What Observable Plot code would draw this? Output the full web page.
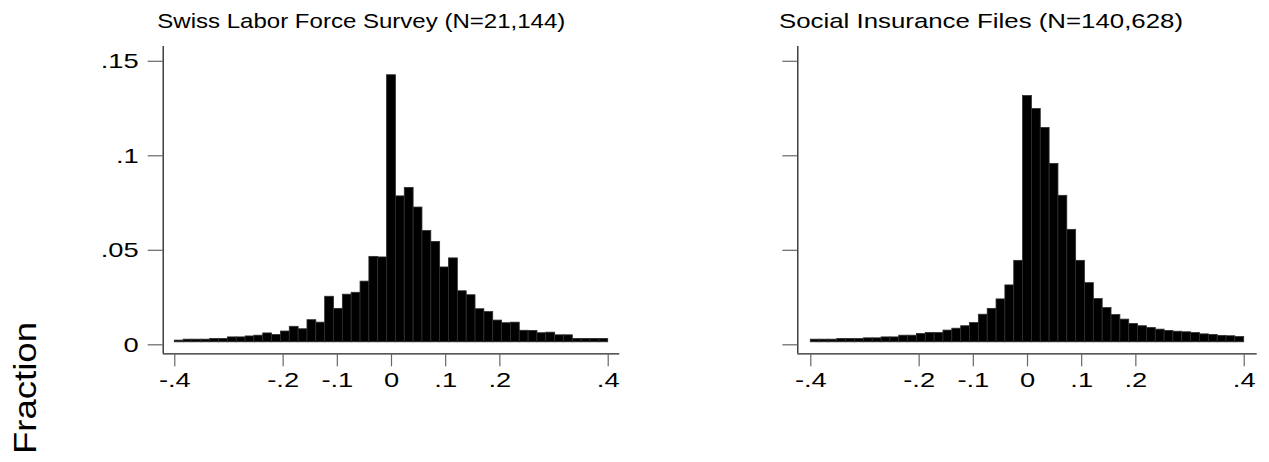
<!DOCTYPE html>
<html><head><meta charset="utf-8">
<script src="https://cdn.jsdelivr.net/npm/d3@7"></script>
<script src="https://cdn.jsdelivr.net/npm/@observablehq/plot@0.6"></script>
<style>
body{margin:0;background:#fff;}
#wrap{position:relative;width:1269px;height:462px;overflow:hidden;font-family:"Liberation Sans",Arial,sans-serif;background:#fff;}
#wrap svg{position:absolute;top:0;}
</style></head><body><div id="wrap"></div>
<script>
// ---- data ----
const binCount = 49;
const binRange = [-0.4, 0.4];
const lfsFractions = [0.0009,0.0014,0.0014,0.0014,0.0018,0.0018,0.0026,0.0026,0.0031,0.0035,0.0047,0.0039,0.0057,0.0082,0.0069,0.0117,0.0104,0.0241,0.0177,0.0252,0.0262,0.0321,0.0452,0.0449,0.1413,0.0772,0.0817,0.0713,0.0589,0.0531,0.0396,0.0444,0.0270,0.0249,0.0175,0.0160,0.0115,0.0101,0.0104,0.0061,0.0060,0.0048,0.0051,0.0037,0.0037,0.0018,0.0018,0.0018,0.0018];
const sifFractions = [0.0014,0.0014,0.0014,0.0018,0.0018,0.0018,0.0021,0.0021,0.0026,0.0026,0.0035,0.0035,0.0044,0.0049,0.0049,0.0062,0.0072,0.0085,0.0102,0.0146,0.0177,0.0227,0.0301,0.0431,0.1303,0.1234,0.1134,0.0944,0.0775,0.0595,0.0431,0.0313,0.0229,0.0181,0.0144,0.0120,0.0097,0.0085,0.0076,0.0067,0.0060,0.0056,0.0053,0.0049,0.0042,0.0039,0.0034,0.0032,0.0028];
const panelTitles = ["Swiss Labor Force Survey (N=21,144)", "Social Insurance Files (N=140,628)"];
const yTickValues = [0, 0.05, 0.1, 0.15];
const yTickLabels = ["0", ".05", ".1", ".15"];
const xTickValues = [-0.4, -0.2, -0.1, 0, 0.1, 0.2, 0.4];
const xTickLabels = ["-.4", "-.2", "-.1", "0", ".1", ".2", ".4"];
const yAxisTitle = "Fraction";

const FONT = '"Liberation Sans", Arial, sans-serif';
const yDomain = [-0.00608, 0.1565];

function toBins(values) {
  const w = (binRange[1] - binRange[0]) / binCount;
  return values.map((v, i) => ({x1: binRange[0] + i * w, x2: binRange[0] + (i + 1) * w, frac: v}));
}

function stretch(svg, factor) {
  svg.querySelectorAll("text").forEach(t => {
    const len = t.getComputedTextLength();
    if (len > 0) {
      t.setAttribute("textLength", len * factor);
      t.setAttribute("lengthAdjust", "spacingAndGlyphs");
    }
  });
}

function panel(values, o) {
  const xDomain = o.xDomain;
  return Plot.plot({
    width: o.width, height: 462,
    marginLeft: o.marginLeft, marginRight: o.marginRight, marginTop: 46, marginBottom: 108.7,
    style: {fontFamily: FONT, background: "transparent", overflow: "visible"},
    x: {domain: xDomain},
    y: {domain: yDomain},
    marks: [
      Plot.rectY(toBins(values), {x1: "x1", x2: "x2", y: "frac", fill: "black", stroke: "#2e2e2e", strokeWidth: 0.8}),
      Plot.ruleX([xDomain[0]], {stroke: "#222", strokeWidth: 1.3}),
      Plot.ruleY([yDomain[0]], {stroke: "#222", strokeWidth: 1.3}),
      Plot.axisY({
        ticks: yTickValues,
        tickFormat: d => o.yLabels ? yTickLabels[yTickValues.indexOf(d)] : "",
        tickSize: 15, tickPadding: 9.5, fontSize: 21, stroke: "#666", strokeWidth: 1.2,
        fill: "black", label: null, dy: 2.5
      }),
      Plot.axisX({
        ticks: xTickValues,
        tickFormat: d => xTickLabels[xTickValues.indexOf(d)],
        tickSize: 13, tickPadding: 5.5, fontSize: 21, stroke: "#666", strokeWidth: 1.2,
        fill: "black", label: null
      })
    ]
  });
}

const wrap = document.getElementById("wrap");

const p1 = panel(lfsFractions, {width: 640, marginLeft: 162.7, marginRight: 20.7, xDomain: [-0.4214, 0.4214], yLabels: true});
p1.style.left = "0px";
wrap.appendChild(p1);
stretch(p1, 1.3);

const p2 = panel(sifFractions, {width: 635, marginLeft: 163.3, marginRight: 12.3, xDomain: [-0.424, 0.424], yLabels: false});
p2.style.left = "634px";
wrap.appendChild(p2);
stretch(p2, 1.3);

// overlay: panel titles and y-axis title
const ov = d3.select(wrap).append("svg")
  .attr("width", 1269).attr("height", 462)
  .style("left", "0px").style("pointer-events", "none")
  .attr("font-family", FONT);

const titlePos = [{x: 361.3, w: 408}, {x: 981, w: 404}];
panelTitles.forEach((t, i) => {
  ov.append("text")
    .attr("x", titlePos[i].x).attr("y", 28.3)
    .attr("text-anchor", "middle")
    .attr("font-size", 21)
    .attr("fill", "black")
    .attr("textLength", titlePos[i].w)
    .attr("lengthAdjust", "spacingAndGlyphs")
    .text(t);
});

ov.append("text")
  .attr("transform", "translate(36,388) rotate(-90)")
  .attr("text-anchor", "middle")
  .attr("font-size", 31)
  .attr("fill", "black")
  .attr("textLength", 132)
  .attr("lengthAdjust", "spacingAndGlyphs")
  .text(yAxisTitle);
</script>
</body></html>
